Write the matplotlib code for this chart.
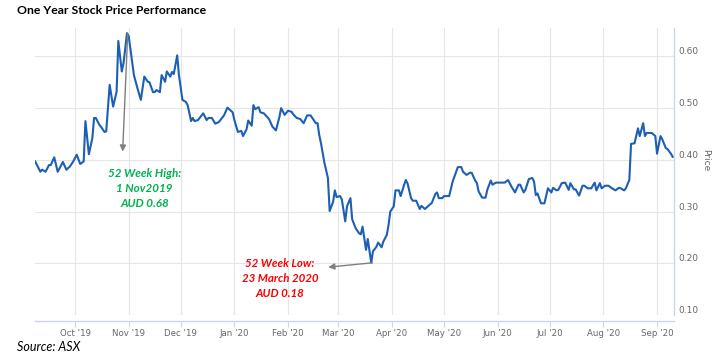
"""
one year stock price chart
"""

import pandas as pd
import matplotlib

matplotlib.use("Agg")
import matplotlib.pyplot as plt
import matplotlib.dates as mdates


# Data
dates = [
    "2019-09-08", "2019-09-11", "2019-09-12", "2019-09-14", "2019-09-16", "2019-09-17",
    "2019-09-19", "2019-09-21", "2019-09-22", "2019-09-24", "2019-09-26", "2019-09-28",
    "2019-09-30",
    "2019-10-02", "2019-10-04", "2019-10-06", "2019-10-07", "2019-10-09", "2019-10-11",
    "2019-10-12", "2019-10-13", "2019-10-15", "2019-10-16", "2019-10-18", "2019-10-19",
    "2019-10-21", "2019-10-23", "2019-10-25", "2019-10-26", "2019-10-28", "2019-10-29",
    "2019-10-31",
    "2019-11-01", "2019-11-04", "2019-11-06", "2019-11-08", "2019-11-10", "2019-11-12",
    "2019-11-13", "2019-11-15", "2019-11-16", "2019-11-17", "2019-11-19", "2019-11-20",
    "2019-11-22", "2019-11-23", "2019-11-25", "2019-11-26", "2019-11-27", "2019-11-29",
    "2019-11-30",
    "2019-12-02", "2019-12-04", "2019-12-05", "2019-12-07", "2019-12-08", "2019-12-09",
    "2019-12-11", "2019-12-14", "2019-12-16", "2019-12-17", "2019-12-19", "2019-12-21",
    "2019-12-23", "2019-12-26", "2019-12-28", "2019-12-31",
    "2020-01-01", "2020-01-03", "2020-01-05", "2020-01-06", "2020-01-08", "2020-01-09",
    "2020-01-11", "2020-01-12", "2020-01-13", "2020-01-15", "2020-01-16", "2020-01-18",
    "2020-01-21", "2020-01-23", "2020-01-25", "2020-01-27", "2020-01-28", "2020-01-30",
    "2020-02-01", "2020-02-03", "2020-02-04", "2020-02-06", "2020-02-08", "2020-02-10",
    "2020-02-12", "2020-02-14", "2020-02-15", "2020-02-17", "2020-02-18", "2020-02-19",
    "2020-02-20", "2020-02-22", "2020-02-24", "2020-02-25", "2020-02-27", "2020-02-28",
    "2020-02-29",
    "2020-03-02", "2020-03-03", "2020-03-05", "2020-03-06", "2020-03-08", "2020-03-09",
    "2020-03-11", "2020-03-13", "2020-03-14", "2020-03-15", "2020-03-17", "2020-03-18",
    "2020-03-20", "2020-03-21", "2020-03-23", "2020-03-24", "2020-03-26", "2020-03-27",
    "2020-03-29", "2020-03-30", "2020-03-31",
    "2020-04-02", "2020-04-03", "2020-04-05", "2020-04-06", "2020-04-08", "2020-04-09",
    "2020-04-10", "2020-04-12", "2020-04-13", "2020-04-15", "2020-04-17", "2020-04-18",
    "2020-04-20", "2020-04-22", "2020-04-24", "2020-04-26", "2020-04-27", "2020-04-28",
    "2020-04-30",
    "2020-05-01", "2020-05-04", "2020-05-06", "2020-05-09", "2020-05-11", "2020-05-12",
    "2020-05-14", "2020-05-16", "2020-05-17", "2020-05-19", "2020-05-20", "2020-05-21",
    "2020-05-23", "2020-05-25", "2020-05-26", "2020-05-28", "2020-05-29", "2020-05-31",
    "2020-06-02", "2020-06-05", "2020-06-07", "2020-06-09", "2020-06-11", "2020-06-13",
    "2020-06-14", "2020-06-16", "2020-06-17", "2020-06-19", "2020-06-21", "2020-06-22",
    "2020-06-23", "2020-06-24", "2020-06-26", "2020-06-28", "2020-06-30",
    "2020-07-02", "2020-07-03", "2020-07-05", "2020-07-06", "2020-07-08", "2020-07-10",
    "2020-07-12", "2020-07-13", "2020-07-15", "2020-07-16", "2020-07-18", "2020-07-20",
    "2020-07-21", "2020-07-23", "2020-07-25", "2020-07-27", "2020-07-28", "2020-07-30",
    "2020-07-31",
    "2020-08-02", "2020-08-04", "2020-08-06", "2020-08-08", "2020-08-10", "2020-08-11",
    "2020-08-13", "2020-08-14", "2020-08-16", "2020-08-17", "2020-08-19", "2020-08-21",
    "2020-08-22", "2020-08-24", "2020-08-25", "2020-08-26", "2020-08-29", "2020-08-31",
    "2020-09-01", "2020-09-03", "2020-09-04", "2020-09-06", "2020-09-07", "2020-09-09",
    "2020-09-10",
]

prices = [
    0.397, 0.377, 0.381, 0.377, 0.390, 0.390,
    0.405, 0.377, 0.383, 0.396, 0.381, 0.387,
    0.397,
    0.410, 0.392, 0.397, 0.475, 0.411, 0.442,
    0.481, 0.481, 0.468, 0.464, 0.454, 0.455,
    0.545, 0.503, 0.532, 0.630, 0.571, 0.587,
    0.645,
    0.639, 0.564, 0.539, 0.516, 0.561, 0.551,
    0.550, 0.531, 0.531, 0.535, 0.531, 0.564,
    0.551, 0.571, 0.561, 0.570, 0.566, 0.602,
    0.564,
    0.516, 0.512, 0.506, 0.475, 0.481, 0.475,
    0.477, 0.490, 0.477, 0.481, 0.481, 0.470,
    0.473, 0.486, 0.501, 0.492,
    0.477, 0.454, 0.456, 0.446, 0.459, 0.476,
    0.466, 0.506, 0.498, 0.502, 0.492, 0.490,
    0.479, 0.464, 0.457, 0.483, 0.500, 0.487,
    0.495, 0.493, 0.488, 0.481, 0.479, 0.471,
    0.486, 0.486, 0.481, 0.471, 0.471, 0.448,
    0.432, 0.394, 0.365, 0.301, 0.319, 0.341,
    0.328,
    0.330, 0.324, 0.281, 0.310, 0.326, 0.285,
    0.268, 0.258, 0.256, 0.271, 0.226, 0.247,
    0.201, 0.223, 0.232, 0.240, 0.231, 0.242,
    0.255, 0.274, 0.300,
    0.310, 0.341, 0.341, 0.330, 0.352, 0.361,
    0.354, 0.326, 0.321, 0.321, 0.305, 0.311,
    0.305, 0.311, 0.317, 0.334, 0.337, 0.326,
    0.326,
    0.330, 0.330, 0.358, 0.386, 0.386, 0.377,
    0.371, 0.375, 0.375, 0.360, 0.355, 0.339,
    0.327, 0.327, 0.342, 0.360, 0.352, 0.356,
    0.356, 0.356, 0.361, 0.348, 0.337, 0.352,
    0.352, 0.337, 0.342, 0.363, 0.365, 0.358,
    0.332, 0.335, 0.316, 0.316, 0.345,
    0.337, 0.346, 0.341, 0.342, 0.355, 0.356,
    0.342, 0.355, 0.343, 0.343, 0.331, 0.350,
    0.350, 0.345, 0.345, 0.356, 0.341, 0.355,
    0.345,
    0.350, 0.350, 0.345, 0.341, 0.346, 0.345,
    0.341, 0.345, 0.361, 0.431, 0.432, 0.461,
    0.446, 0.471, 0.446, 0.452, 0.452, 0.446,
    0.412, 0.446, 0.440, 0.423, 0.421, 0.412,
    0.406,
]

y_ticks = [0.10, 0.20, 0.30, 0.40, 0.50, 0.60]

title = "One Year Stock Price Performance"
source = "Source: ASX"
high_note = "52 Week High:\n1 Nov2019\nAUD 0.68"
low_note = "52 Week Low:\n23 March 2020\nAUD 0.18"

df = pd.DataFrame({"date": pd.to_datetime(dates), "price": prices})

# Figure
W, H = 722, 362
fig = plt.figure(figsize=(W / 100, H / 100), dpi=100)
ax = fig.add_axes([35 / W, 1 - 315 / H, (674 - 35) / W, (315 - 28) / H])

ax.plot(df["date"], df["price"], color="#1c5fb4", lw=1.5, zorder=3)

ax.set_xlim(pd.Timestamp("2019-09-07 21:30"), pd.Timestamp("2020-09-10 19:00"))
ax.set_ylim(0.10, 0.655)

# axes styling
ax.grid(True, color="#e6e6e6", lw=0.8)
ax.set_axisbelow(True)
for side in ["left", "top"]:
    ax.spines[side].set_visible(False)
ax.spines["right"].set_color("#ccd6eb")
ax.spines["right"].set_linewidth(1.0)
ax.spines["bottom"].set_color("#ccd6eb")
ax.spines["bottom"].set_linewidth(1.0)
ax.spines["bottom"].set_position(("outward", 4.3))

ax.xaxis.set_major_locator(mdates.MonthLocator())
ax.xaxis.set_major_formatter(mdates.DateFormatter("%b '%y"))
ax.tick_params(axis="x", length=4.5, width=0.8, color="#ccd6eb", pad=1,
               labelsize=6.2, labelcolor="#666666")

ax.yaxis.tick_right()
ax.set_yticks(y_ticks)
ax.set_yticklabels([f"{v:.2f}" for v in y_ticks])
ax.tick_params(axis="y", length=0, pad=3, labelsize=6.5, labelcolor="#666666")
for lab in ax.get_yticklabels():
    lab.set_va("bottom")

ax.set_ylabel("Price", rotation=270, fontsize=6.5, color="#666666",
              ha="center", va="center")
ax.yaxis.set_label_coords(1.05, 0.54)

# annotations
arrow = dict(arrowstyle="-|>", color="#7f7f7f", lw=1.0, mutation_scale=9,
             shrinkA=0, shrinkB=0)
ax.annotate("", xy=(pd.Timestamp("2019-10-28 12:00"), 0.416),
            xytext=(pd.Timestamp("2019-10-31 10:00"), 0.645), arrowprops=arrow)
ax.annotate("", xy=(pd.Timestamp("2020-02-24 05:00"), 0.1925),
            xytext=(pd.Timestamp("2020-03-20 17:00"), 0.201), arrowprops=arrow)

ax.text(pd.Timestamp("2019-11-10 02:00"), 0.344, high_note, color="#00b050",
        fontsize=8.4, fontweight="bold", style="italic", family="Lato",
        ha="center", va="center", linespacing=1.45)
ax.text(pd.Timestamp("2020-01-27 07:00"), 0.170, low_note, color="#ff0000",
        fontsize=8.3, fontweight="bold", style="italic", family="Lato",
        ha="center", va="center", linespacing=1.45)

fig.text(17 / W, 1 - 10 / H, title, fontsize=8.8, fontweight="bold",
         family="Lato", va="center", ha="left")
fig.text(17 / W, 1 - 347 / H, source, fontsize=9, style="italic",
         family="Lato", va="center", ha="left")

plt.savefig("out.png", dpi=100)
plt.close()
